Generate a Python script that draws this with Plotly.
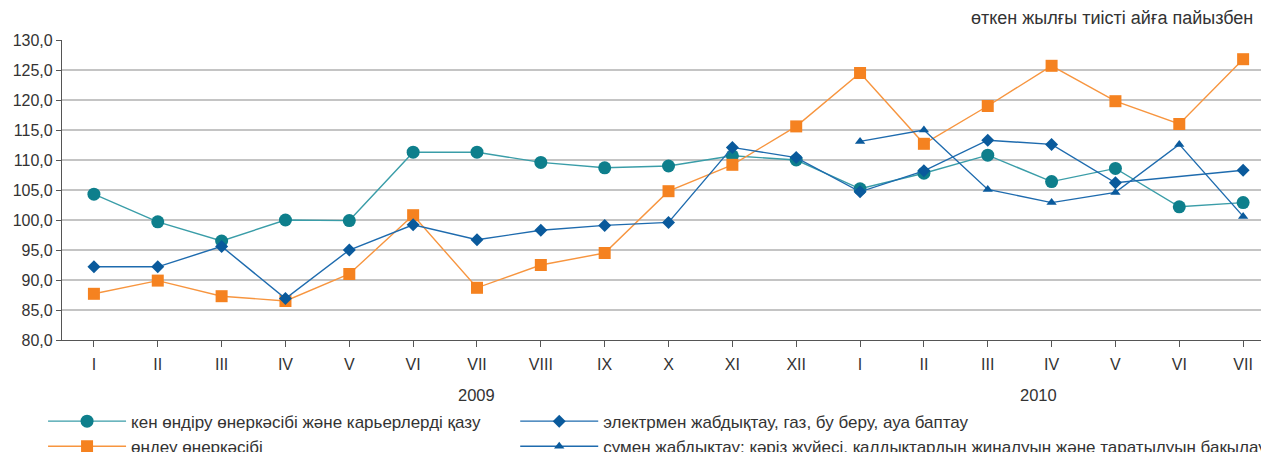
import plotly.graph_objects as go

months = ["I", "II", "III", "IV", "V", "VI", "VII", "VIII", "IX", "X", "XI", "XII",
          "I", "II", "III", "IV", "V", "VI", "VII"]
cats = list(range(len(months)))

mining = [104.3, 99.7, 96.5, 100.0, 99.9, 111.3, 111.3, 109.6, 108.7, 109.0, 110.7, 110.0,
          105.2, 107.8, 110.8, 106.4, 108.6, 102.2, 102.9]
manuf = [87.7, 89.9, 87.3, 86.5, 91.0, 100.8, 88.7, 92.5, 94.5, 104.8, 109.2, 115.6,
         124.5, 112.7, 119.0, 125.7, 119.8, 116.0, 126.8]
electric = [92.2, 92.2, 95.6, 86.9, 95.0, 99.2, 96.7, 98.3, 99.1, 99.6, 112.1, 110.4,
            104.7, 108.2, 113.3, 112.6, 106.2, None, 108.3]
water = [None] * 12 + [113.1, 115.0, 105.1, 102.9, 104.6, 112.6, 100.6]

names = [
    "кен өндіру өнеркәсібі және карьерлерді қазу",
    "электрмен жабдықтау, газ, бу беру, ауа баптау",
    "өңдеу өнеркәсібі",
    "сумен жабдықтау; кәріз жүйесі, қалдықтардың жиналуын және таратылуын бақылау",
]
yticks = [80, 85, 90, 95, 100, 105, 110, 115, 120, 125, 130]
title_text = "өткен жылғы тиісті айға пайызбен"
years = ["2009", "2010"]

FONT = "Liberation Sans, Arial, sans-serif"
TXT = "#333333"

fig = go.Figure()
fig.add_trace(go.Scatter(x=cats, y=mining, name=names[0], mode="lines+markers",
                         legend="legend",
                         line=dict(color="#3A9DA8", width=1.4),
                         marker=dict(symbol="circle", size=13, color="#0E7F8C")))
fig.add_trace(go.Scatter(x=cats, y=manuf, name=names[2], mode="lines+markers",
                         legend="legend",
                         line=dict(color="#F7953F", width=1.4),
                         marker=dict(symbol="square", size=12, color="#F58220")))
fig.add_trace(go.Scatter(x=cats, y=electric, name=names[1], mode="lines+markers",
                         connectgaps=True, legend="legend2",
                         line=dict(color="#1E6BAE", width=1.4),
                         marker=dict(symbol="diamond", size=10, color="#0A5A9C")))
fig.add_trace(go.Scatter(x=cats, y=water, name=names[3], mode="lines+markers",
                         legend="legend2",
                         line=dict(color="#1E6BAE", width=1.4),
                         marker=dict(symbol="triangle-up", size=9, color="#0A5A9C")))

leg_common = dict(orientation="v", xanchor="left", y=-0.212, yanchor="top",
                  itemwidth=78, font=dict(family=FONT, size=17, color=TXT),
                  bgcolor="rgba(0,0,0,0)", traceorder="normal", tracegroupgap=0)

fig.update_layout(
    width=1261, height=452,
    margin=dict(l=62, r=0, t=40, b=112, autoexpand=False),
    paper_bgcolor="white", plot_bgcolor="white",
    separators=", ",
    font=dict(family=FONT, size=16, color=TXT),
    showlegend=True,
    legend=dict(x=-0.0158, **leg_common),
    legend2=dict(x=0.378, **leg_common),
)
fig.update_xaxes(
    range=[-0.5, 18.28], tickmode="array", tickvals=cats, ticktext=months,
    tickson="boundaries", ticks="outside", ticklen=6, tickcolor="#555555",
    showline=True, linecolor="#555555", linewidth=1.2, showgrid=False,
    zeroline=False, tickfont=dict(family=FONT, size=16, color=TXT), ticklabelstandoff=4,
)
fig.update_yaxes(
    range=[80, 130], tickmode="array", tickvals=yticks, tickformat=".1f",
    ticks="outside", ticklen=5, tickcolor="#555555",
    showline=True, linecolor="#555555", linewidth=1.2,
    showgrid=True, gridcolor="#C4C4C4", gridwidth=1.6, zeroline=False,
    tickfont=dict(family=FONT, size=16, color=TXT),
)
fig.add_annotation(text=title_text, xref="paper", yref="paper", x=1.0, y=1.0,
                   xanchor="right", yanchor="bottom", yshift=10, xshift=-6, showarrow=False,
                   font=dict(family=FONT, size=18, color=TXT))
fig.add_annotation(text=years[0], x=6, xref="x", yref="paper", y=-0.183, yanchor="middle",
                   showarrow=False, font=dict(family=FONT, size=16.5, color=TXT))
fig.add_annotation(text=years[1], x=14.8, xref="x", yref="paper", y=-0.183, yanchor="middle",
                   showarrow=False, font=dict(family=FONT, size=16.5, color=TXT))

fig.write_html("out.html", config={"displayModeBar": False},
               post_script="document.body.style.margin='0';")
